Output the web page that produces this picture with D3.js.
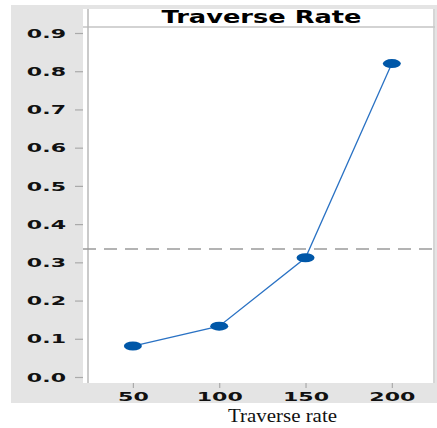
<!DOCTYPE html>
<html>
<head>
<meta charset="utf-8">
<script src="https://cdn.jsdelivr.net/npm/d3@7"></script>
<style>
  html, body { margin: 0; padding: 0; background: #fff; }
  svg { display: block; }
</style>
</head>
<body>
<svg id="chart" width="437" height="428"></svg>
<script>
const categories = [50, 100, 150, 200];
const means = [0.081, 0.133, 0.312, 0.820];
const yTicks = [0.0, 0.1, 0.2, 0.3, 0.4, 0.5, 0.6, 0.7, 0.8, 0.9];
const refLine = [0.335];
const title = "Traverse Rate";
const xTitle = "Traverse rate";

const svg = d3.select("#chart");
const W = 437, H = 428;
const panel = {x: 11, y: 5, w: 426, h: 398};
const box = {left: 83, top: 9, right: 435, bottom: 383};
const plot = {left: 88, top: 27, right: 435, bottom: 383};

svg.append("rect").attr("x", 0).attr("y", 0).attr("width", W).attr("height", H).attr("fill", "#fff");
svg.append("rect").attr("x", panel.x).attr("y", panel.y).attr("width", panel.w).attr("height", panel.h).attr("fill", "#e4e4e4");
svg.append("rect").attr("x", box.left).attr("y", box.top).attr("width", box.right - box.left).attr("height", box.bottom - box.top).attr("fill", "#fff");

// title strip separator
svg.append("line").attr("x1", box.left).attr("x2", box.right).attr("y1", plot.top).attr("y2", plot.top)
  .attr("stroke", "#c4c4c4").attr("stroke-width", 1.5);
// left plot border
svg.append("line").attr("x1", plot.left).attr("x2", plot.left).attr("y1", box.top).attr("y2", box.bottom)
  .attr("stroke", "#b8b8b8").attr("stroke-width", 1.5);
// right border
svg.append("line").attr("x1", box.right - 1).attr("x2", box.right - 1).attr("y1", box.top).attr("y2", box.bottom)
  .attr("stroke", "#c8c8c8").attr("stroke-width", 1.5);

const x = d3.scaleLinear().domain([24, 225]).range([plot.left, plot.right]);
const y = d3.scaleLinear().domain([-0.0157, 0.9157]).range([plot.bottom, plot.top]);

const SX = 1.7;
// Y axis
const yAxis = svg.append("g").attr("transform", `translate(${box.left},0)`)
  .call(d3.axisLeft(y).tickValues(yTicks).tickFormat(d3.format(".1f")).tickSize(8).tickPadding(9).tickSizeOuter(0));
yAxis.select(".domain").remove();
yAxis.selectAll(".tick line").attr("stroke", "#aaa").attr("stroke-width", 1.2);
yAxis.selectAll(".tick text")
  .attr("font-family", "DejaVu Sans").attr("font-weight", "bold").attr("font-size", 13).attr("fill", "#111")
  .attr("x", -17 / SX).attr("transform", `scale(${SX},1)`);

// X axis
const xAxis = svg.append("g").attr("transform", `translate(0,${plot.bottom})`)
  .call(d3.axisBottom(x).tickValues(categories).tickFormat(d3.format("d")).tickSize(5).tickPadding(4).tickSizeOuter(0));
xAxis.select(".domain").remove();
xAxis.selectAll(".tick line").attr("stroke", "#aaa").attr("stroke-width", 1.2);
xAxis.selectAll(".tick text")
  .attr("font-family", "DejaVu Sans").attr("font-weight", "bold").attr("font-size", 13).attr("fill", "#111")
  .attr("transform", `scale(${SX},1)`);

// reference dashed line
svg.selectAll(".ref").data(refLine).enter().append("line").attr("class", "ref")
  .attr("x1", box.left).attr("x2", box.right).attr("y1", d => y(d)).attr("y2", d => y(d))
  .attr("stroke", "#9a9a9a").attr("stroke-width", 1.5).attr("stroke-dasharray", "13,8");

// data line
const data = categories.map((c, i) => ({c, v: means[i]}));
svg.append("path").datum(data)
  .attr("d", d3.line().x(d => x(d.c)).y(d => y(d.v)))
  .attr("fill", "none").attr("stroke", "#2a72c4").attr("stroke-width", 1.3);
svg.selectAll(".pt").data(data).enter().append("ellipse").attr("class", "pt")
  .attr("cx", d => x(d.c)).attr("cy", d => y(d.v)).attr("rx", 9).attr("ry", 4.5)
  .attr("fill", "#0057a8");

// title
svg.append("text").attr("x", (plot.left + plot.right) / 2).attr("y", 23)
  .attr("text-anchor", "middle").attr("font-family", "DejaVu Sans").attr("font-weight", "bold")
  .attr("font-size", 18).attr("fill", "#000")
  .attr("textLength", 200).attr("lengthAdjust", "spacingAndGlyphs")
  .text(title);

// x title
svg.append("text").attr("x", 282.5).attr("y", 422)
  .attr("text-anchor", "middle").attr("font-family", "Liberation Serif")
  .attr("font-size", 19).attr("fill", "#111")
  .attr("textLength", 109).attr("lengthAdjust", "spacingAndGlyphs")
  .text(xTitle);
</script>
</body>
</html>
